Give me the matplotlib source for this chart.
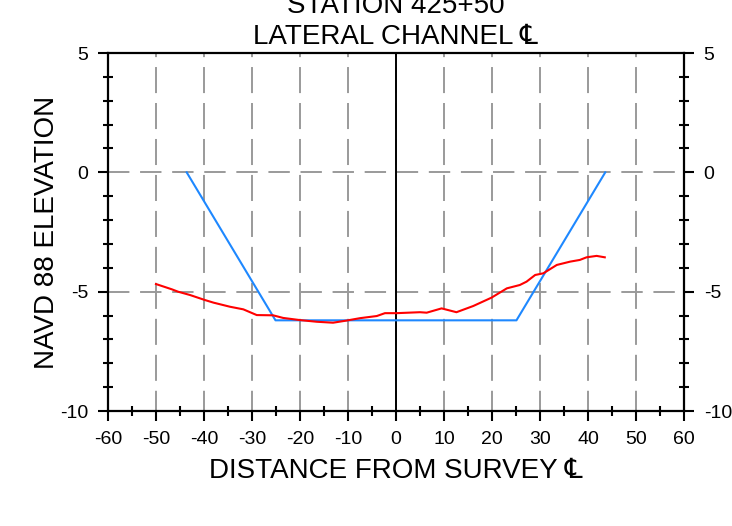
import numpy as np
import matplotlib
matplotlib.use("Agg")
import matplotlib.pyplot as plt
from matplotlib.ticker import MultipleLocator

plt.rcParams['font.family'] = ['Liberation Sans', 'DejaVu Sans']
plt.rcParams['axes.unicode_minus'] = False

# surveyed ground profile (red)
ground_x = [-50.0, -46.7, -45.4, -42.9, -39.8, -38.0, -34.6, -31.8, -29.0, -25.6,
            -23.5, -20.0, -16.5, -13.1, -10.3, -7.5, -4.0, -2.3, 0.1, 5.0,
            6.4, 9.5, 12.6, 16.1, 19.9, 23.1, 25.8, 27.2, 29.0, 30.7,
            33.5, 36.3, 38.3, 39.7, 41.8, 43.5]
ground_y = [-4.68, -4.90, -5.00, -5.14, -5.35, -5.46, -5.63, -5.74, -5.98, -5.99,
            -6.10, -6.19, -6.26, -6.30, -6.21, -6.11, -6.02, -5.90, -5.90, -5.86,
            -5.88, -5.70, -5.86, -5.60, -5.25, -4.86, -4.72, -4.58, -4.30, -4.23,
            -3.88, -3.74, -3.67, -3.56, -3.50, -3.56]

# design channel section (blue)
channel_x = [-43.6, -25.1, 25.1, 43.6]
channel_y = [0.0, -6.2, -6.2, 0.0]

fig = plt.figure(figsize=(7.32, 5.26), dpi=100)
ax = fig.add_axes([0.1475, 0.2186, 0.7869, 0.6806])

ax.set_xlim(-60, 60)
ax.set_ylim(-10, 5)

ax.xaxis.set_major_locator(MultipleLocator(10))
ax.xaxis.set_minor_locator(MultipleLocator(5))
ax.yaxis.set_major_locator(MultipleLocator(5))
ax.yaxis.set_minor_locator(MultipleLocator(1))

# dashed grey grid
ax.xaxis.grid(True, which='major', color='#9a9a9a', linestyle=(3, (13.4, 5.1)), linewidth=1.4)
ax.yaxis.grid(True, which='major', color='#9a9a9a', linestyle=(0, (11, 5.5)), linewidth=1.4)
ax.set_axisbelow(True)

ax.axvline(0, color='black', linewidth=1.4, zorder=2)

ax.plot(channel_x, channel_y, color='#1e88ff', linewidth=1.5, zorder=3)
ax.plot(ground_x, ground_y, color='#ff0000', linewidth=1.5, zorder=4)

for s in ax.spines.values():
    s.set_linewidth(1.6)

ax.tick_params(axis='both', which='major', direction='out', length=7.2, width=1.5,
               labelsize=14, pad=7)
ax.tick_params(axis='both', which='minor', direction='inout', length=6.5, width=1.5)
ax.tick_params(axis='y', which='both', left=True, right=True, labelleft=True, labelright=True)
ax.tick_params(axis='x', which='both', top=False)

ax.set_xlabel('DISTANCE FROM SURVEY \u2104', fontsize=20, labelpad=7.5)
ax.set_ylabel('NAVD 88 ELEVATION', fontsize=20, labelpad=0)
ax.set_title('STATION 425+50\nLATERAL CHANNEL \u2104', fontsize=20, pad=6.6, linespacing=1.24)

fig.savefig('out.png', dpi=100)
